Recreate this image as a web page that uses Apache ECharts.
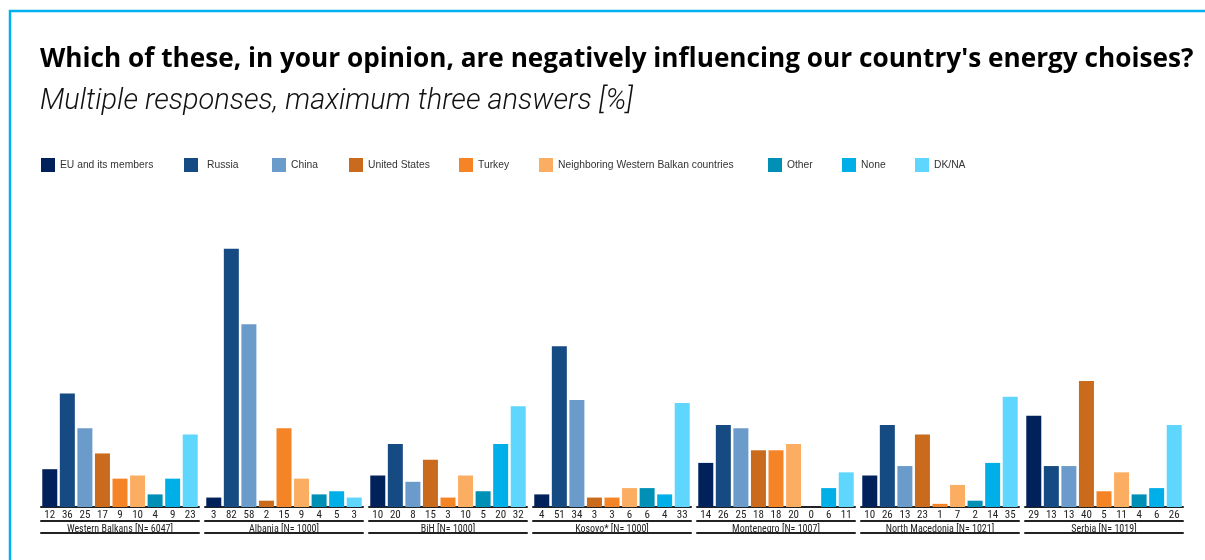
<!DOCTYPE html>
<html>
<head>
<meta charset="utf-8">
<script src="https://cdn.jsdelivr.net/npm/echarts@6/dist/echarts.min.js"></script>
<style>
html,body{margin:0;padding:0;background:#fff;}
#chart{width:1205px;height:560px;}
</style>
</head>
<body>
<div id="chart"></div>
<script>
// ---- data ----
const categories = ['EU and its members','Russia','China','United States','Turkey','Neighboring Western Balkan countries','Other','None','DK/NA'];
const groups = ['Western Balkans [N= 6047]','Albania [N= 1000]','BiH [N= 1000]','Kosovo* [N= 1000]','Montenegro [N= 1007]','North Macedonia [N= 1021]','Serbia [N= 1019]'];
// bar heights as drawn
const westernBalkans = [12,36,25,17,9,10,4,9,23];
const albania = [3,82,58,2,25,9,4,5,3];
const bih = [10,20,8,15,3,10,5,20,32];
const kosovo = [4,51,34,3,3,6,6,4,33];
const montenegro = [14,26,25,18,18,20,0,6,11];
const northMacedonia = [10,26,13,23,1,7,2,14,35];
const serbia = [29,13,13,40,5,11,4,6,26];
// printed value labels (Albania's Turkey label reads 15 while its bar is drawn higher)
const albaniaLabels = ['3','82','58','2','15','9','4','5','3'];
const groupValues = [westernBalkans, albania, bih, kosovo, montenegro, northMacedonia, serbia];
const groupLabels = [westernBalkans, albaniaLabels, bih, kosovo, montenegro, northMacedonia, serbia];

// ---- styles / layout ----
const colors = ['#00215a','#164a82','#6a9bcb','#c96a1c','#f58426','#fbad62','#008fb5','#00aee8','#5fd6fd'];
const legendLeft = [41,184,272,349,459,539,768,842,915];
const legendPad = [0,4,0,0,0,0,0,0,0];
const groupLeft0 = 41, groupPitch = 164, groupWidth = 158;
const condensed = "'Liberation Sans Narrow','Roboto Condensed','Roboto',sans-serif";

const chart = echarts.init(document.getElementById('chart'));

const grids = [], xAxes = [], yAxes = [], series = [], legends = [];
groupValues.forEach((vals, g) => {
  const labs = groupLabels[g];
  grids.push({left: groupLeft0 + g * groupPitch, width: groupWidth, top: 192, bottom: 53, containLabel: false});
  yAxes.push({gridIndex: g, type: 'value', min: 0, max: 100, show: false});
  xAxes.push({
    gridIndex: g, type: 'category', data: categories, position: 'bottom',
    axisLine: {show: true, lineStyle: {color: '#222', width: 2}},
    axisTick: {show: false},
    axisLabel: {interval: 0, margin: 3, fontSize: 11, color: '#222', fontFamily: condensed,
      formatter: (v, i) => String(labs[i])}
  });
  xAxes.push({
    gridIndex: g, type: 'category', data: [groups[g]], position: 'bottom', offset: 14,
    axisLine: {show: true, lineStyle: {color: '#222', width: 2}},
    axisTick: {show: false},
    axisLabel: {interval: 0, margin: 3, fontSize: 10, color: '#222', fontFamily: condensed}
  });
  xAxes.push({
    gridIndex: g, type: 'category', data: [''], position: 'bottom', offset: 26,
    axisLine: {show: true, lineStyle: {color: '#222', width: 2}},
    axisTick: {show: false}, axisLabel: {show: false}
  });
  categories.forEach((c, i) => {
    const data = categories.map((_, j) => j === i ? vals[i] : '-');
    series.push({
      type: 'bar', name: c, xAxisIndex: g * 3, yAxisIndex: g, stack: 'g' + g,
      data: data, barWidth: 15, itemStyle: {color: colors[i]}, silent: true, animation: false
    });
  });
});

categories.forEach((c, i) => {
  legends.push({
    data: [c], left: legendLeft[i], top: 158, padding: 0, itemWidth: 14, itemHeight: 14, icon: 'rect',
    selectedMode: false,
    textStyle: {fontSize: 10.3, color: '#333', fontFamily: "'Liberation Sans',Arial,sans-serif", padding: [0,0,0,legendPad[i]]}
  });
});

chart.setOption({
  animation: false,
  color: colors,
  title: [{
    text: "Which of these, in your opinion, are negatively influencing our country's energy choises?",
    left: 40, top: 47, padding: 0,
    textStyle: {fontSize: 26.2, fontWeight: 'bold', color: '#000', fontFamily: "'Open Sans'"}
  }, {
    text: 'Multiple responses, maximum three answers [%]',
    left: 40, top: 87, padding: 0,
    textStyle: {fontSize: 29, fontStyle: 'italic', fontWeight: 300, color: '#111', fontFamily: 'Roboto'}
  }],
  graphic: [{
    type: 'rect', shape: {x: 10, y: 11, width: 1400, height: 700},
    style: {fill: 'none', stroke: '#00b0f0', lineWidth: 2.5}, silent: true
  }],
  legend: legends,
  grid: grids,
  xAxis: xAxes,
  yAxis: yAxes,
  series: series
});
</script>
</body>
</html>
